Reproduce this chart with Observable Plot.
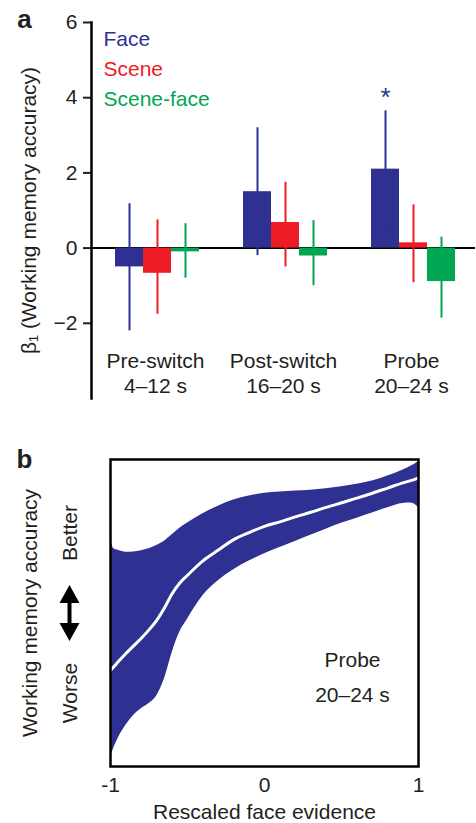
<!DOCTYPE html>
<html><head><meta charset="utf-8">
<script src="https://cdn.jsdelivr.net/npm/d3@7"></script>
<script src="https://cdn.jsdelivr.net/npm/@observablehq/plot@0.6"></script>
<style>body{margin:0;background:#fff;} svg{display:block;}</style>
</head><body><div id="a"></div><div id="b"></div>
<script>
// ---- Panel a data ----
const groups = ["Pre-switch", "Post-switch", "Probe"];
const windows = ["4–12 s", "16–20 s", "20–24 s"];
const series = ["Face", "Scene", "Scene-face"];
const colors = ["#2e3192", "#ed1c24", "#00a651"];
const faceBeta = [-0.5, 1.5, 2.1];
const faceLo = [-2.2, -0.2, 0.55];
const faceHi = [1.18, 3.2, 3.65];
const sceneBeta = [-0.67, 0.68, 0.14];
const sceneLo = [-1.76, -0.5, -0.92];
const sceneHi = [0.75, 1.75, 1.15];
const sfBeta = [-0.1, -0.21, -0.89];
const sfLo = [-0.8, -1.0, -1.86];
const sfHi = [0.65, 0.73, 0.29];
const faceSig = ["", "", "*"];
const yTicks = [-2, 0, 2, 4, 6];
const yLabelA = "β₁ (Working memory accuracy)";

// ---- Panel b data ----
const evidence = [-1, -0.98, -0.95, -0.9, -0.85, -0.8, -0.75, -0.7, -0.65, -0.6, -0.55, -0.5, -0.4, -0.3, -0.2, -0.1, 0, 0.1, 0.2, 0.3, 0.4, 0.5, 0.6, 0.7, 0.8, 0.9, 0.95, 1.0];
const fitUpper = [74.2, 71.0, 70.4, 69.8, 69.9, 70.3, 70.9, 72.0, 73.4, 75.5, 77.6, 79.3, 82.3, 84.8, 86.8, 88.1, 89.0, 89.4, 89.7, 90.0, 90.5, 91.1, 91.9, 93.0, 94.6, 96.6, 97.8, 99.3];
const fitMean = [31.3, 32.4, 34.1, 36.8, 39.3, 41.8, 44.5, 47.6, 51.6, 56.3, 59.8, 62.3, 67.0, 70.5, 73.9, 76.2, 78.2, 79.7, 81.3, 82.8, 84.4, 85.9, 87.4, 89.0, 90.7, 92.4, 93.1, 94.0];
const fitLower = [3.0, 5.8, 9.2, 13.4, 16.6, 18.8, 20.5, 23.0, 28.5, 37.0, 43.8, 48.0, 55.6, 60.5, 64.1, 66.9, 69.3, 71.3, 73.3, 75.3, 77.3, 79.2, 80.9, 82.6, 84.3, 85.7, 85.8, 84.4];
const xTicks = [-1, 0, 1];
const probeLabel = "Probe\n20–24 s";

const font = "'Liberation Sans', Arial, Helvetica, sans-serif";
const ink = "#231f20";

const betas = [faceBeta, sceneBeta, sfBeta], los = [faceLo, sceneLo, sfLo], his = [faceHi, sceneHi, sfHi];
const rows = [];
groups.forEach((g, i) => series.forEach((s, j) => rows.push({group: g, series: s, value: betas[j][i], lo: los[j][i], hi: his[j][i]})));
const sigRows = groups.map((g, i) => ({group: g, series: series[0], hi: faceHi[i], sig: faceSig[i]}));
const groupLabel = g => g + "\n" + windows[groups.indexOf(g)];

const A = Plot.plot({
  width: 476, height: 420,
  marginTop: 22, marginBottom: 22, marginLeft: 90, marginRight: 0,
  style: {fontFamily: font, fontSize: "21px", color: ink, background: "#fff", overflow: "visible"},
  fx: {domain: groups, padding: 0},
  x: {domain: series, paddingInner: 0, paddingOuter: 0.72, align: 0.55, axis: null},
  y: {domain: [-4, 6]},
  color: {domain: series, range: colors},
  marks: [
    Plot.axisFx({anchor: "bottom", tickSize: 0, tickFormat: groupLabel, dy: -58, lineHeight: 1.22, label: null}),
    Plot.axisY({ticks: yTicks, tickSize: 8, tickPadding: 6, strokeWidth: 2, label: null}),
    Plot.frame({anchor: "left", facet: "super", strokeWidth: 2.5, stroke: "#000"}),
    Plot.ruleY([0], {strokeWidth: 2, stroke: "#000"}),
    Plot.barY(rows, {fx: "group", x: "series", y: "value", fill: "series"}),
    Plot.ruleX(rows, {fx: "group", x: "series", y1: "lo", y2: "hi", stroke: "series", strokeWidth: 2}),
    Plot.text(sigRows, {fx: "group", x: "series", y: "hi", text: "sig", fill: colors[0], fontSize: 26, dy: -13}),
    ...series.map((s, i) => Plot.text([s], {facet: "super", frameAnchor: "top-left", textAnchor: "start", lineAnchor: "middle", dx: 12, dy: 16.5 + 30 * i, fill: colors[i]})),
    Plot.text([yLabelA], {facet: "super", frameAnchor: "left", textAnchor: "middle", lineAnchor: "middle", rotate: -90, dx: -62}),
    Plot.text(["a"], {facet: "super", frameAnchor: "top-left", textAnchor: "middle", lineAnchor: "middle", dx: -67, dy: -2.5, fontWeight: "bold", fontSize: 26})
  ]
});
document.getElementById("a").append(A);

// double-headed arrow shape for the Better/Worse annotation
const doubleArrow = {
  draw(ctx, l) {
    const hw = 10, hh = 18, sw = 2;
    ctx.moveTo(0, -l);
    ctx.lineTo(hw, -l + hh); ctx.lineTo(sw, -l + hh); ctx.lineTo(sw, -hh); ctx.lineTo(hw, -hh);
    ctx.lineTo(0, 0);
    ctx.lineTo(-hw, -hh); ctx.lineTo(-sw, -hh); ctx.lineTo(-sw, -l + hh); ctx.lineTo(-hw, -l + hh);
    ctx.closePath();
  }
};

const bandRows = evidence.map((x, i) => ({x, lo: fitLower[i], hi: fitUpper[i], m: fitMean[i]}));
const B = Plot.plot({
  width: 476, height: 403,
  marginTop: 39, marginBottom: 57, marginLeft: 110, marginRight: 58,
  style: {fontFamily: font, fontSize: "21px", color: ink, background: "#fff", overflow: "visible"},
  x: {domain: [-1, 1]},
  y: {domain: [0, 100], axis: null},
  marks: [
    Plot.areaY(bandRows, {x: "x", y1: "lo", y2: "hi", fill: colors[0], curve: "monotone-x"}),
    Plot.lineY(bandRows, {x: "x", y: "m", stroke: "#fff", strokeWidth: 3, curve: "monotone-x"}),
    Plot.frame({strokeWidth: 2.5, stroke: "#000"}),
    Plot.axisX({ticks: xTicks, tickSize: 0, tickPadding: 11, tickFormat: d => String(d), label: "Rescaled face evidence", labelAnchor: "center", labelArrow: "none", labelOffset: 52}),
    Plot.text(["Working memory accuracy"], {frameAnchor: "left", textAnchor: "middle", lineAnchor: "middle", rotate: -90, dx: -80}),
    Plot.text(["Better"], {frameAnchor: "left", textAnchor: "middle", lineAnchor: "middle", rotate: -90, dx: -40, dy: -80}),
    Plot.text(["Worse"], {frameAnchor: "left", textAnchor: "middle", lineAnchor: "middle", rotate: -90, dx: -40, dy: 80}),
    Plot.vector([0], {frameAnchor: "left", dx: -41, length: 56, anchor: "middle", shape: doubleArrow, fill: "#000", stroke: "none"}),
    Plot.text([probeLabel], {frameAnchor: "bottom-right", textAnchor: "middle", lineAnchor: "middle", dx: -66, dy: -93.5, lineHeight: 1.67}),
    Plot.text(["b"], {frameAnchor: "top-left", textAnchor: "middle", lineAnchor: "middle", dx: -86, dy: 0.5, fontWeight: "bold", fontSize: 26})
  ]
});
document.getElementById("b").append(B);
</script>
</body></html>
